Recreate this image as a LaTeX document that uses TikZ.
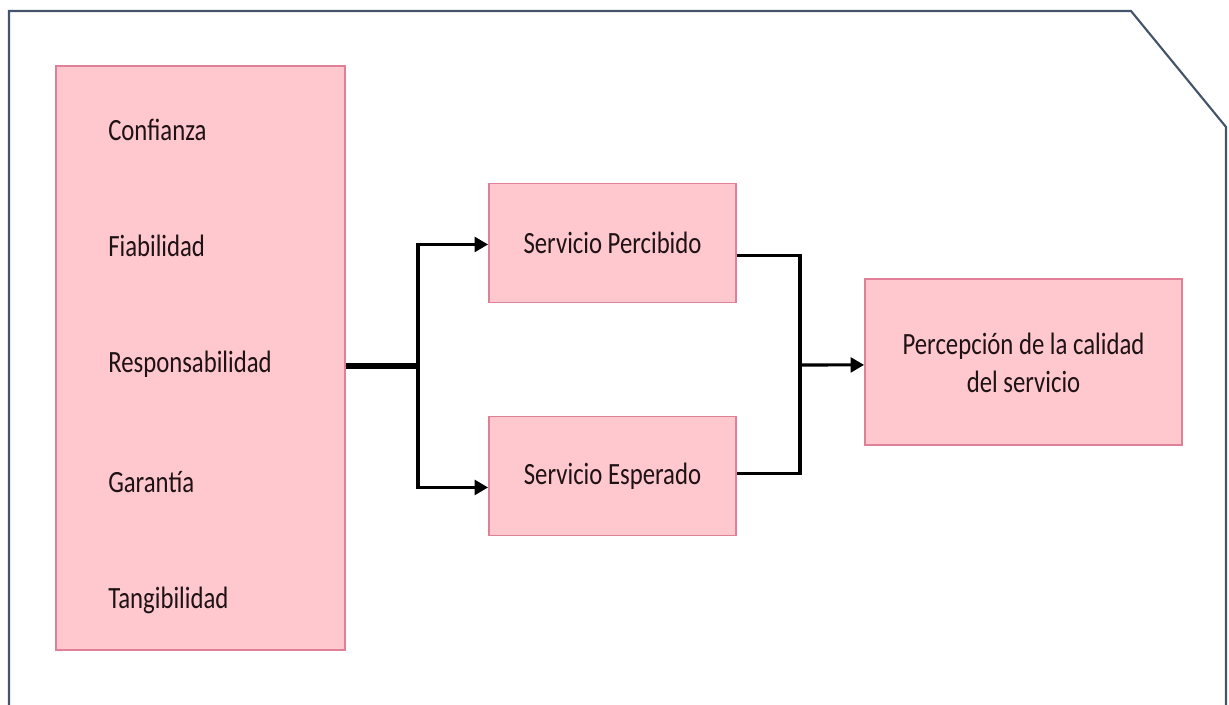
\documentclass[tikz,border=0pt]{standalone}
\usepackage{fontspec}
\setmainfont[FakeStretch=0.8]{Carlito}
\usetikzlibrary{arrows.meta,calc}
\definecolor{boxfill}{HTML}{FFC7CE}
\definecolor{boxline}{HTML}{E08098}
\definecolor{framecol}{HTML}{44546A}
\definecolor{txt}{HTML}{1E1215}
\tikzset{
  pinkbox/.style={draw=boxline, fill=boxfill, line width=1.4pt, inner sep=0pt, text=txt,
    font=\fontsize{23.2}{28.5}\selectfont, align=center},
  factor/.style={anchor=west, inner sep=0pt, text=txt, font=\fontsize{23.2}{26}\selectfont},
  conn/.style={draw=black, line width=2.3pt},
  thickconn/.style={draw=black, line width=3.8pt},
  arr/.style={conn, -{Triangle[length=10pt,width=11pt]}},
}
\begin{document}
\begin{tikzpicture}[x=0.75pt,y=-0.75pt]
\useasboundingbox (0,0) rectangle (1229,705);
% outer frame
\draw[framecol, line width=1.6pt] (9,705) -- (9,11) -- (1131,11) -- (1226,127) -- (1226,705);
% boxes
\node[pinkbox, minimum width=289*0.75pt, minimum height=584*0.75pt] (F) at (200.5,358) {};
\node[pinkbox, minimum width=247*0.75pt, minimum height=119*0.75pt] (SP) at (612.5,243) {Servicio Percibido};
\node[pinkbox, minimum width=247*0.75pt, minimum height=119*0.75pt] (SE) at (612.5,476) {Servicio Esperado};
\node[pinkbox, minimum width=317*0.75pt, minimum height=166*0.75pt] (P) at (1023.5,362) {\raisebox{-9.5pt}[0pt][0pt]{\begin{tabular}{@{}c@{}}Percepción de la calidad\\del servicio\end{tabular}}};
% factors
\node[factor] (f1) at (108,130) {Confianza};
\node[factor] (f2) at (108,246) {Fiabilidad};
\node[factor] (f3) at (108,364) {Responsabilidad};
\node[factor] (f4) at (108,482) {Garantía};
\node[factor] (f5) at (108,600) {Tangibilidad};
% connectors
\coordinate (j1) at (418,366);
\coordinate (j2) at (800,365);
\draw[thickconn] ([yshift=-6pt]F.east) -- (j1);
\draw[conn] ([yshift=-1.1pt]j1 |- SP.west) -- ([yshift=-8.6pt]j1 |- SE.west);
\draw[arr] ([xshift=-1.15pt,yshift=-1.1pt]j1 |- SP.west) -- ([yshift=-1.1pt]SP.west);
\draw[arr] ([xshift=-1.15pt,yshift=-8.6pt]j1 |- SE.west) -- ([yshift=-8.6pt]SE.west);
\draw[conn] ([yshift=-9.4pt]SP.east) -| (j2) |- ([yshift=1.9pt]SE.east);
\draw[arr] ([xshift=-1.15pt]j2) -- ([yshift=-2.2pt]P.west);
\end{tikzpicture}
\end{document}
